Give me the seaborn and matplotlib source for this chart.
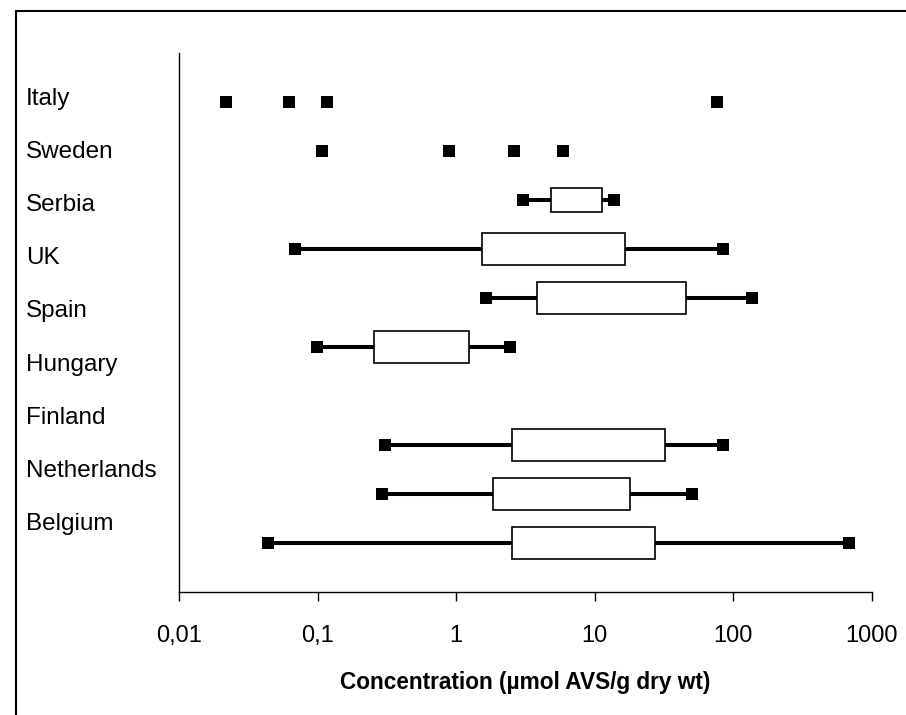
import matplotlib
matplotlib.use("Agg")
import matplotlib.pyplot as plt
from matplotlib.patches import Rectangle
import seaborn as sns
import pandas as pd
import numpy as np

# ---------------- data ----------------
country_labels = ["Italy", "Sweden", "Serbia", "UK", "Spain", "Hungary",
                  "Finland", "Netherlands", "Belgium"]

# individual points (rows without boxes)
point_rows = [1, 1, 1, 1, 2, 2, 2, 2]
point_values = [0.0217, 0.062, 0.117, 76, 0.107, 0.89, 2.6, 5.9]

# box rows (row index on the chart, 1 = top)
box_rows = [3, 4, 5, 6, 8, 9, 10]
whisker_min = [3.05, 0.069, 1.65, 0.098, 0.306, 0.293, 0.044]
box_q1 = [4.82, 1.54, 3.81, 0.255, 2.54, 1.85, 2.54]
box_q3 = [11.2, 16.6, 45.9, 1.23, 31.9, 18.1, 27.3]
whisker_max = [13.7, 85, 137.6, 2.43, 85, 50.5, 680]

tick_values = [0.01, 0.1, 1, 10, 100, 1000]
tick_labels = ["0,01", "0,1", "1", "10", "100", "1000"]
x_title = "Concentration (µmol AVS/g dry wt)"

# ---------------- style ----------------
sns.set_theme(style="white")
plt.rcParams["font.family"] = ["Liberation Sans", "DejaVu Sans"]

W, H = 906, 715
fig = plt.figure(figsize=(W / 100, H / 100), dpi=100)
fig.patch.set_facecolor("white")

ax_left, ax_right, ax_top, ax_bottom = 179.3, 871.7, 53, 592
ax = fig.add_axes([ax_left / W, 1 - ax_bottom / H,
                   (ax_right - ax_left) / W, (ax_bottom - ax_top) / H])
ax.set_facecolor("white")
ax.set_xscale("log")
ax.set_xlim(0.01, 1000)
ax.set_ylim(11, 0)

# whiskers (drawn behind the boxes)
ax.hlines(box_rows, whisker_min, whisker_max, colors="black",
          linewidth=2.9, zorder=2)

# boxes
box_heights = [0.51 if r == 3 else 0.67 for r in box_rows]
ax.barh(box_rows, np.array(box_q3) - np.array(box_q1), left=box_q1,
        height=box_heights, color="white", edgecolor="black",
        linewidth=1.2, zorder=3)

# end markers
ends = pd.DataFrame({
    "value": list(whisker_min) + list(whisker_max) + list(point_values),
    "row": list(box_rows) + list(box_rows) + list(point_rows),
})
sns.scatterplot(data=ends, x="value", y="row", marker="s", s=66,
                color="black", linewidth=0, ax=ax, zorder=4)

# axes styling
ax.set_xticks(tick_values)
ax.set_xticklabels(tick_labels)
ax.minorticks_off()
ax.xaxis.set_minor_locator(matplotlib.ticker.NullLocator())
ax.tick_params(axis="x", which="major", direction="out", length=6.5,
               width=1.0, color="black", labelsize=17, pad=17.5,
               labelcolor="black", bottom=True)
ax.set_yticks([])
ax.set_ylabel("")
ax.set_xlabel(x_title, fontsize=16.3, fontweight="bold", labelpad=17,
              color="black")
for side in ["top", "right"]:
    ax.spines[side].set_visible(False)
for side in ["left", "bottom"]:
    ax.spines[side].set_visible(True)
    ax.spines[side].set_color("black")
    ax.spines[side].set_linewidth(1.0)
ax.grid(False)

# category labels (text boxes, offset from the rows as in the original)
label_x_px = 25.7
label_y0_px, label_step_px = 99, 53.1
for i, name in enumerate(country_labels):
    fig.text(label_x_px / W, 1 - (label_y0_px + i * label_step_px) / H, name,
             fontsize=17.5, ha="left", va="center", color="black")

# outer chart frame (cropped at right and bottom)
fig.add_artist(Rectangle((15.7 / W, -0.1), 1.2, 1 - 10.7 / H + 0.1,
                         transform=fig.transFigure, fill=False,
                         edgecolor="black", linewidth=1.5))

fig.savefig("out.png", dpi=100, facecolor="white")
